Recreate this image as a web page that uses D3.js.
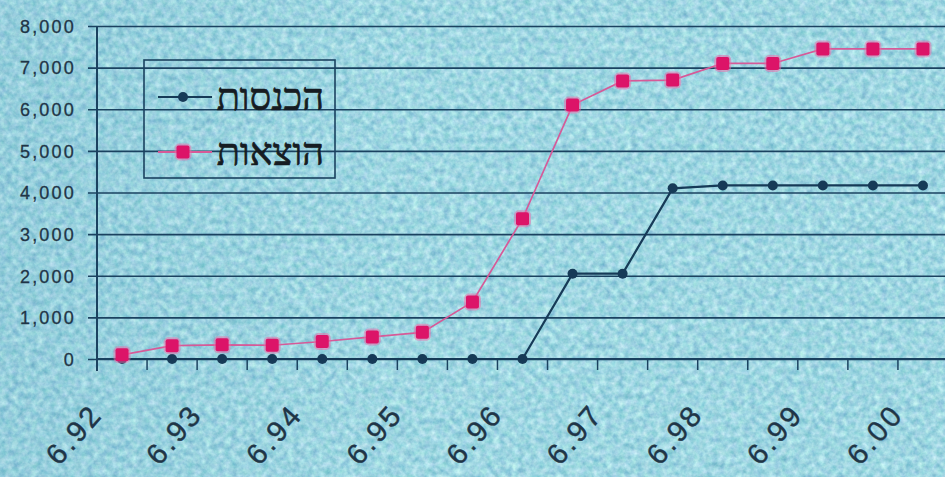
<!DOCTYPE html>
<html lang="he">
<head>
<meta charset="utf-8">
<script src="https://cdn.jsdelivr.net/npm/d3@7"></script>
<style>
  html, body { margin: 0; padding: 0; background: #a2d4e4; }
  svg { display: block; }
</style>
</head>
<body>
<svg id="chart" width="945" height="477"></svg>
<script>
// Half-yearly reporting periods (June / December)
const periods = ["6.92","12.92","6.93","12.93","6.94","12.94","6.95","12.95",
                 "6.96","12.96","6.97","12.97","6.98","12.98","6.99","12.99","6.00"];
// Labels shown on the category axis (June of each year)
const tickLabels = ["6.92","6.93","6.94","6.95","6.96","6.97","6.98","6.99","6.00"];
// Y-axis ticks
const yTicks = [0,1000,2000,3000,4000,5000,6000,7000,8000];

// Cumulative income (הכנסות) and expenses (הוצאות)
const income   = [0,0,0,0,0,0,0,0,0,2050,2050,4100,4170,4170,4170,4170,4170];
const expenses = [100,320,340,330,420,530,640,1370,3370,6100,6680,6700,7100,7100,7450,7450,7450];

const seriesNames = ["הכנסות","הוצאות"];

const W = 945, H = 477;
const svg = d3.select("#chart");

// ---- paper-like textured background ----
const defs = svg.append("defs");
const f = defs.append("filter").attr("id","paper")
  .attr("x",0).attr("y",0).attr("width","100%").attr("height","100%")
  .attr("color-interpolation-filters","sRGB");
f.append("feTurbulence").attr("type","fractalNoise")
  .attr("baseFrequency","0.16").attr("numOctaves",3).attr("seed",7);
f.append("feColorMatrix").attr("type","matrix")
  .attr("values",
    "0.42 0 0 0 0.41  " +
    "0.28 0.10 0 0 0.65  " +
    "0.20 0 0.05 0 0.76  " +
    "0 0 0 0 1");
const grad = defs.append("linearGradient").attr("id","shade")
  .attr("x1",0).attr("x2",1).attr("y1",0).attr("y2",0);
grad.append("stop").attr("offset","0%").attr("stop-color","#3a7fa6").attr("stop-opacity",0.10);
grad.append("stop").attr("offset","40%").attr("stop-color","#3a7fa6").attr("stop-opacity",0.0);
grad.append("stop").attr("offset","100%").attr("stop-color","#ffffff").attr("stop-opacity",0.0);

svg.append("rect").attr("width",W).attr("height",H).attr("fill","#a2d4e4");
svg.append("rect").attr("width",W).attr("height",H).attr("filter","url(#paper)");
svg.append("rect").attr("width",W).attr("height",H).attr("fill","url(#shade)");

// ---- scales ----
const plot = { left: 97, right: 948, top: 26, bottom: 359 };
const x = d3.scaleBand().domain(periods).range([plot.left, plot.right]).padding(0);
const y = d3.scaleLinear().domain([0, 8000]).range([plot.bottom, plot.top]);
const cx = d => x(d) + x.bandwidth() / 2;

const ink = "#1b4260";

// ---- gridlines + y axis ----
const yAxis = d3.axisLeft(y).tickValues(yTicks)
  .tickSize(-(W - plot.left + 10)).tickPadding(21)
  .tickFormat(d3.format(","));
const gy = svg.append("g").attr("transform", `translate(${plot.left},0)`).call(yAxis);
gy.select(".domain").remove();
gy.selectAll(".tick line").attr("stroke", ink).attr("stroke-width", 1.7)
  .attr("x1", -9).attr("x2", W - plot.left + 10);
gy.selectAll(".tick text")
  .attr("fill", "#1f3547").attr("font-family", "'Liberation Sans', Arial, sans-serif")
  .attr("font-size", 18).attr("letter-spacing", "2.2px").attr("dy", "0.35em")
  .attr("stroke", "#1f3547").attr("stroke-width", 0.3);

// vertical axis line
svg.append("line").attr("x1", plot.left).attr("x2", plot.left)
  .attr("y1", plot.top).attr("y2", plot.bottom + 12)
  .attr("stroke", ink).attr("stroke-width", 2);

// ---- category axis ----
const xAxis = d3.axisBottom(x).tickSize(0).tickFormat("");
const gx = svg.append("g").attr("transform", `translate(0,${plot.bottom})`).call(xAxis);
gx.select(".domain").attr("stroke", ink).attr("stroke-width", 2)
  .attr("d", `M${plot.left},0H${W + 5}`);
// tick marks at category boundaries
gx.selectAll(".bound").data(periods.slice(1)).enter().append("line")
  .attr("class", "bound")
  .attr("x1", d => x(d)).attr("x2", d => x(d))
  .attr("y1", 0).attr("y2", 11)
  .attr("stroke", ink).attr("stroke-width", 1.5);

// rotated June labels
svg.append("g").selectAll("text").data(tickLabels).enter().append("text")
  .attr("transform", d => `translate(${cx(d) - 18},${plot.bottom + 56}) rotate(-49)`)
  .attr("text-anchor", "end")
  .attr("font-family", "'Liberation Sans', Arial, sans-serif")
  .attr("font-size", 29).attr("letter-spacing", "3px")
  .attr("fill", "#1f3547").attr("stroke", "#1f3547").attr("stroke-width", 0.4)
  .text(d => d);

// ---- series ----
const line = d3.line().x((d, i) => cx(periods[i])).y(d => y(d));

// income (dark blue, round markers)
svg.append("path").datum(income).attr("d", line)
  .attr("fill", "none").attr("stroke", "#163a57").attr("stroke-width", 2.2);
svg.append("g").selectAll("circle").data(income).enter().append("circle")
  .attr("cx", (d, i) => cx(periods[i])).attr("cy", d => y(d)).attr("r", 5)
  .attr("fill", "#163a57");

// expenses (magenta, square markers)
svg.append("path").datum(expenses).attr("d", line)
  .attr("fill", "none").attr("stroke", "#d65a98").attr("stroke-width", 1.7);
const sq = 13;
const gExp = svg.append("g");
gExp.selectAll("rect.glow").data(expenses).enter().append("rect")
  .attr("class", "glow")
  .attr("x", (d, i) => cx(periods[i]) - sq / 2 - 2).attr("y", d => y(d) - sq / 2 - 2)
  .attr("width", sq + 4).attr("height", sq + 4).attr("rx", 5)
  .attr("fill", "#f06aa8").attr("opacity", 0.5);
gExp.selectAll("rect.mark").data(expenses).enter().append("rect")
  .attr("class", "mark")
  .attr("x", (d, i) => cx(periods[i]) - sq / 2).attr("y", d => y(d) - sq / 2)
  .attr("width", sq).attr("height", sq).attr("rx", 2)
  .attr("fill", "#dc1468");

// ---- legend ----
const lg = svg.append("g");
lg.append("rect").attr("x", 144).attr("y", 60).attr("width", 191).attr("height", 118)
  .attr("fill", "none")
  .attr("stroke", ink).attr("stroke-width", 1.6);
const legendItems = [
  { name: seriesNames[0], color: "#163a57", lineColor: "#163a57", shape: "circle", y: 97 },
  { name: seriesNames[1], color: "#dc1468", lineColor: "#d65a98", shape: "square", y: 152 }
];
legendItems.forEach(it => {
  lg.append("line").attr("x1", 158).attr("x2", 212).attr("y1", it.y).attr("y2", it.y)
    .attr("stroke", it.lineColor).attr("stroke-width", 2);
  if (it.shape === "circle") {
    lg.append("circle").attr("cx", 183).attr("cy", it.y).attr("r", 5).attr("fill", it.color);
  } else {
    lg.append("rect").attr("x", 183 - sq / 2 - 2).attr("y", it.y - sq / 2 - 2)
      .attr("width", sq + 4).attr("height", sq + 4).attr("rx", 5)
      .attr("fill", "#f06aa8").attr("opacity", 0.5);
    lg.append("rect").attr("x", 183 - sq / 2).attr("y", it.y - sq / 2)
      .attr("width", sq).attr("height", sq).attr("rx", 2).attr("fill", it.color);
  }
  lg.append("text").attr("x", 324).attr("y", it.y + 13)
    .attr("text-anchor", "end")
    .attr("font-family", "'Liberation Serif', 'DejaVu Serif', serif")
    .attr("font-size", 38).attr("fill", "#161c22")
    .attr("stroke", "#161c22").attr("stroke-width", 0.7)
    .text(it.name);
});
</script>
</body>
</html>
